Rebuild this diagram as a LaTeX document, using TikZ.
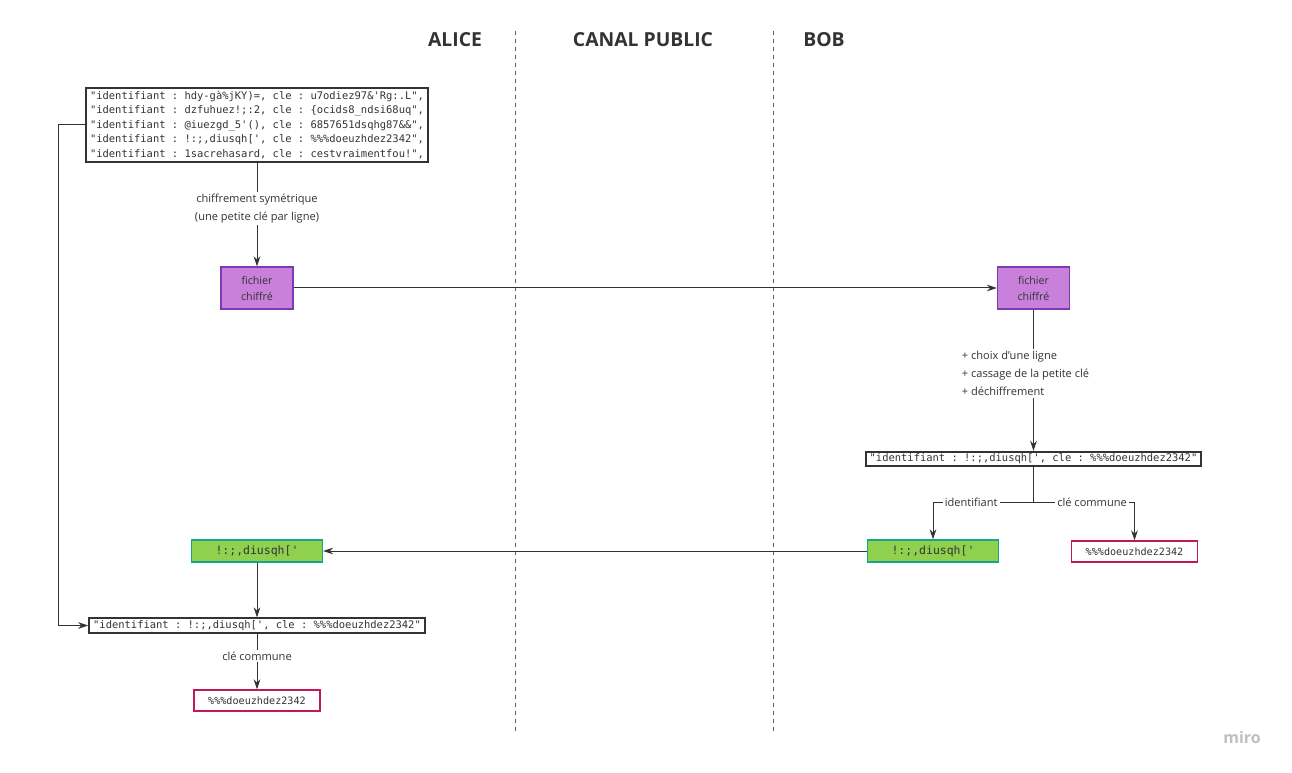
\documentclass[tikz,border=0pt]{standalone}
\usepackage{fontspec}
\setmainfont{Open Sans}
\setmonofont{DejaVu Sans Mono}
\usetikzlibrary{positioning,arrows.meta,calc}
\definecolor{ink}{HTML}{333333}
\definecolor{purplefill}{HTML}{C880DA}
\definecolor{purpleline}{HTML}{7A3CB0}
\definecolor{greenfill}{HTML}{8FD14F}
\definecolor{greenline}{HTML}{16A689}
\definecolor{pinkline}{HTML}{C2185B}

\begin{document}
\begin{tikzpicture}[x=0.75pt,y=-0.75pt,
	title/.style={font=\fontsize{14.5}{16}\selectfont\bfseries,text=ink},
	msgbox/.style={draw=ink,line width=1.5pt,fill=white,font=\ttfamily\fontsize{7.85}{10.9}\selectfont,text=ink,inner xsep=3pt,inner ysep=2.5pt},
	filebox/.style={draw=purpleline,line width=1.1pt,fill=purplefill,minimum width=54pt,minimum height=31.5pt,align=center,font=\fontsize{8}{12}\selectfont,text=ink},
	idbox/.style={draw=greenline,line width=1.1pt,fill=greenfill,minimum width=98pt,minimum height=16.5pt,font=\ttfamily\fontsize{8.6}{10}\selectfont,text=ink},
	keybox/.style={draw=pinkline,line width=1.1pt,fill=white,minimum width=94.5pt,minimum height=15.75pt,font=\ttfamily\fontsize{7.6}{10}\selectfont,text=ink},
	lbl/.style={fill=white,font=\fontsize{8.3}{13.5}\selectfont,text=ink,inner sep=1.5pt},
	arr/.style={draw=ink,line width=0.75pt,-{Stealth[length=7.5pt,width=5pt]}},
	lane/.style={draw=ink!80,line width=0.6pt,dash pattern=on 3pt off 3pt}]
	\fill[white] (0,0) rectangle (1292,773);
	\useasboundingbox (0,0) rectangle (1292,773);

	% lanes
	\node[title] (alice) at (455,40) {ALICE};
	\node[title] (canal) at (643,40) {CANAL PUBLIC};
	\node[title] (bob) at (824,40) {BOB};
	\draw[lane] (515,31) -- (515,732);
	\draw[lane] (773,31) -- (773,732);

	% Alice
	\node[msgbox,align=left] (table) at (257,125) {"identifiant : hdy-gà\%jKY)=, cle : u7odiez97\&'Rg:.L",\\
		"identifiant : dzfuhuez!;:2, cle : \{ocids8\_ndsi68uq",\\
		"identifiant : @iuezgd\_5'(), cle : 6857651dsqhg87\&\&",\\
		"identifiant : !:;,diusqh[', cle : \%\%\%doeuzhdez2342",\\
		"identifiant : 1sacrehasard, cle : cestvraimentfou!",};
	\node[filebox] (afile) at (257,288) {fichier\\chiffré};
	\node[idbox] (aid) at (257,551) {!:;,diusqh['};
	\node[msgbox,inner ysep=1.5pt] (aline) at (257,625.5) {"identifiant : !:;,diusqh[', cle : \%\%\%doeuzhdez2342"};
	\node[keybox] (akey) at (257,700.5) {\%\%\%doeuzhdez2342};

	% Bob
	\node[filebox] (bfile) at (1033.5,288) {fichier\\chiffré};
	\node[msgbox,inner ysep=1.5pt] (bline) at (1033.5,459) {"identifiant : !:;,diusqh[', cle : \%\%\%doeuzhdez2342"};
	\node[idbox] (bid) at (933,551) {!:;,diusqh['};
	\node[keybox] (bkey) at (1134.5,551.5) {\%\%\%doeuzhdez2342};

	% arrows
	\draw[arr] (table) -- node[lbl,align=center,pos=0.44] {chiffrement symétrique\\(une petite clé par ligne)} (afile);
	\draw[arr] (afile) -- (bfile);
	\draw[arr] (bfile) -- node[lbl,align=left,pos=0.45,xshift=-6pt] {+ choix d'une ligne\\+ cassage de la petite clé\\+ déchiffrement} (bline);
	\draw[ink,line width=0.75pt] (bline.south) -- ++(0,35) coordinate (fork);
	\draw[arr] (fork) -| node[lbl,pos=0.31] {identifiant} (bid.north);
	\draw[arr] (fork) -| node[lbl,pos=0.29] {clé commune} (bkey.north);
	\draw[arr] (bid) -- (aid);
	\draw[arr] (aid) -- (aline);
	\draw[arr] (table.west) -- ++(-27,0) |- (aline.west);
	\draw[arr] (aline) -- node[lbl,pos=0.4] {clé commune} (akey);

	\node[font=\fontsize{12}{14}\selectfont\bfseries,text=black!25] (miro) at (1242,737) {miro};
\end{tikzpicture}
\end{document}
